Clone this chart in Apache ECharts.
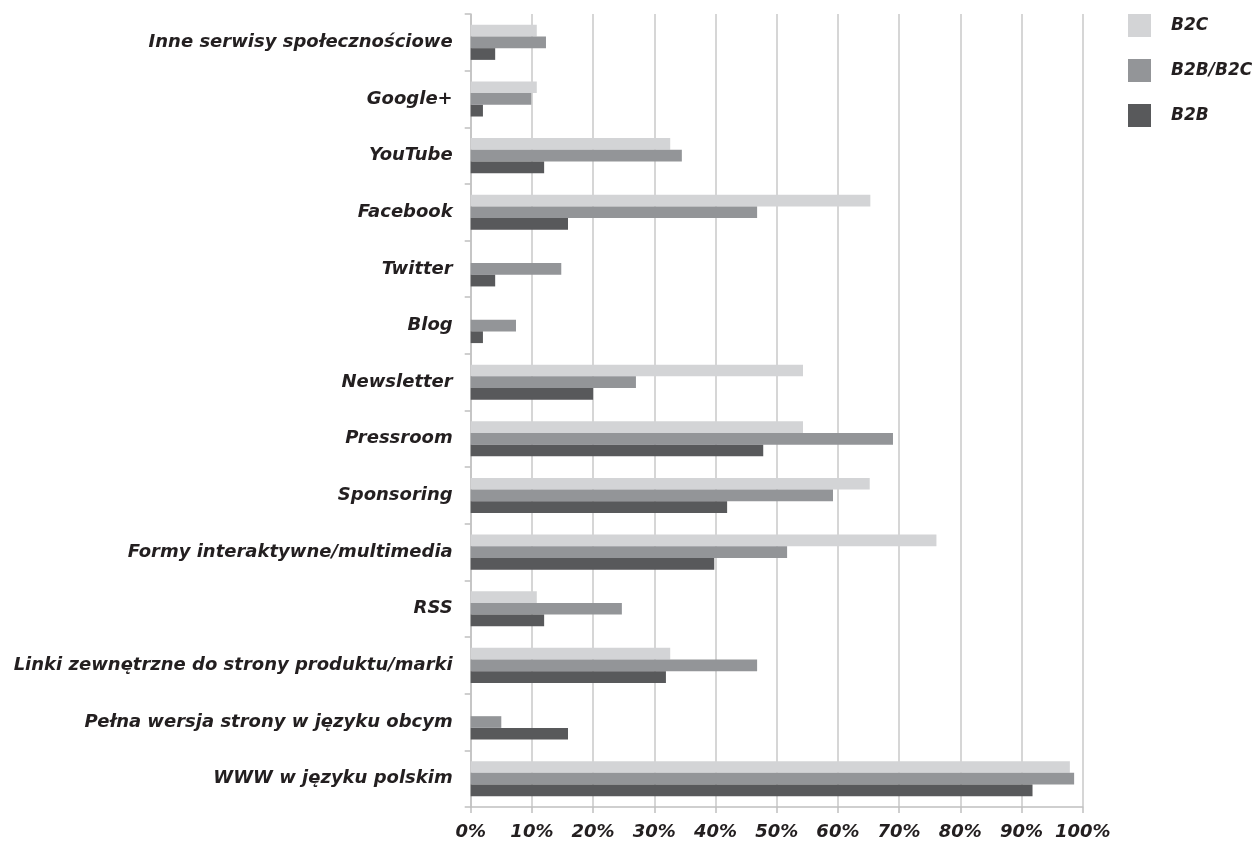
<!DOCTYPE html>
<html>
<head>
<meta charset="utf-8">
<script src="https://cdn.jsdelivr.net/npm/echarts@6/dist/echarts.min.js"></script>
<style>
html,body{margin:0;padding:0;background:#fff;}
#chart{width:1257px;height:845px;}
</style>
</head>
<body>
<div id="chart"></div>
<script>
const categories = [
  "Inne serwisy społecznościowe",
  "Google+",
  "YouTube",
  "Facebook",
  "Twitter",
  "Blog",
  "Newsletter",
  "Pressroom",
  "Sponsoring",
  "Formy interaktywne/multimedia",
  "RSS",
  "Linki zewnętrzne do strony produktu/marki",
  "Pełna wersja strony w języku obcym",
  "WWW w języku polskim"
];
const seriesNames = ["B2C", "B2B/B2C", "B2B"];
const b2c    = [10.8, 10.8, 32.6, 65.3, 0, 0, 54.3, 54.3, 65.2, 76.1, 10.8, 32.6, 0, 97.9];
const b2bb2c = [12.3, 9.9, 34.5, 46.8, 14.8, 7.4, 27.0, 69.0, 59.2, 51.7, 24.7, 46.8, 5.0, 98.6];
const b2b    = [4.0, 2.0, 12.0, 15.9, 4.0, 2.0, 20.0, 47.8, 41.9, 39.8, 12.0, 31.9, 15.9, 91.8];
const xTicks = [0, 10, 20, 30, 40, 50, 60, 70, 80, 90, 100];

const colors = ["#d3d4d6", "#939598", "#58595b"];
const labelFont = {fontFamily: "DejaVu Sans", fontStyle: "italic", fontWeight: "bold", fontSize: 18, color: "#231f20"};

const chart = echarts.init(document.getElementById('chart'), null, {renderer: 'canvas'});
const values = [b2c, b2bb2c, b2b];
chart.setOption({
  animation: false,
  backgroundColor: "#fff",
  color: colors,
  legend: {
    orient: "vertical",
    left: 1128,
    top: 14,
    padding: 0,
    itemWidth: 23,
    itemHeight: 23,
    itemGap: 22,
    icon: "rect",
    data: seriesNames,
    textStyle: Object.assign({}, labelFont, {fontSize: 17, padding: [0,0,0,15]})
  },
  grid: {left: 470.7, right: 174.3, top: 14, bottom: 38, containLabel: false},
  xAxis: {
    type: "value",
    min: xTicks[0],
    max: xTicks[xTicks.length - 1],
    interval: 10,
    axisLine: {show: true, lineStyle: {color: "#c0c0c0", width: 1.5}},
    axisTick: {show: true, inside: false, length: 6, lineStyle: {color: "#c0c0c0", width: 1.5}},
    splitLine: {show: true, lineStyle: {color: "#c8c8c8", width: 1.5}},
    axisLabel: Object.assign({}, labelFont, {margin: 16, formatter: v => v + "%"})
  },
  yAxis: {
    type: "category",
    inverse: true,
    data: categories,
    axisLine: {show: true, lineStyle: {color: "#c0c0c0", width: 1.5}},
    axisTick: {show: true, length: 6, lineStyle: {color: "#c0c0c0", width: 1.5}},
    axisLabel: Object.assign({}, labelFont, {margin: 18})
  },
  series: seriesNames.map((n, i) => ({
    name: n,
    type: "bar",
    data: values[i],
    barWidth: 11.7,
    barGap: "0%",
    itemStyle: {color: colors[i]}
  }))
});
</script>
</body>
</html>
